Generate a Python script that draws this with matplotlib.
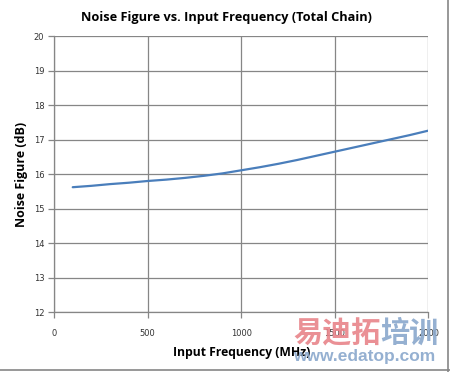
import matplotlib
matplotlib.use("Agg")
import matplotlib.pyplot as plt
from matplotlib.lines import Line2D

# Datos
freq_mhz = [100, 200, 300, 400, 500, 600, 700, 800, 900, 1000,
            1100, 1200, 1300, 1400, 1500, 1600, 1700, 1800, 1900, 2000]
nf_db = [15.62, 15.66, 15.71, 15.75, 15.80, 15.84, 15.89, 15.95, 16.02, 16.11,
         16.20, 16.30, 16.41, 16.53, 16.65, 16.77, 16.89, 17.01, 17.13, 17.26]
x_ticks = [0, 500, 1000, 1500, 2000]
y_ticks = [12, 13, 14, 15, 16, 17, 18, 19, 20]

gris = "#868686"

fig = plt.figure(figsize=(4.5, 3.72), dpi=100)
ax = fig.add_axes([0.12, 0.161, 0.832, 0.742])

ax.plot(freq_mhz, nf_db, color="#4a7ebb", lw=1.6, solid_capstyle="round", zorder=3)

ax.set_xlim(0, 2000)
ax.set_ylim(12, 20)
ax.set_xticks(x_ticks)
ax.set_yticks(y_ticks)
ax.grid(True, color=gris, lw=0.9)
for lado in ["top", "right"]:
    ax.spines[lado].set_visible(False)
for lado in ["left", "bottom"]:
    ax.spines[lado].set_color(gris)
    ax.spines[lado].set_linewidth(0.9)
ax.tick_params(axis="both", colors=gris, length=4, width=0.9, labelsize=6,
               labelcolor="#333333", pad=3)
ax.tick_params(axis="x", pad=8)

ax.set_title("Noise Figure vs. Input Frequency (Total Chain)", fontsize=9.2,
             fontweight="bold", family="Open Sans", pad=11, x=0.46)
ax.set_xlabel("Input Frequency (MHz)", fontsize=8.7, fontweight="bold",
              family="Open Sans", labelpad=6)
ax.set_ylabel("Noise Figure (dB)", fontsize=9, fontweight="bold",
              family="Open Sans", labelpad=4)

# Marco de la figura
fig.add_artist(Line2D([448 / 450, 448 / 450], [0.0, 1.0], color=gris, lw=1.2,
                      transform=fig.transFigure))
fig.add_artist(Line2D([0.0, 1.0], [2 / 372, 2 / 372], color=gris, lw=1.2,
                      transform=fig.transFigure))

# Marca de agua
fig.text(293 / 450, 1 - 333 / 372, "易迪拓", color="#e8848a", alpha=0.9,
         fontsize=21, fontweight="bold", family="Noto Sans CJK SC", va="center")
fig.text(380 / 450, 1 - 333 / 372, "培训", color="#8aa8cc", alpha=0.9,
         fontsize=21, fontweight="bold", family="Noto Sans CJK SC", va="center")
fig.text(293 / 450, 1 - 356 / 372, "www.edatop.com", color="#8aa8cc", alpha=0.9,
         fontsize=12.5, fontweight="bold", family="Liberation Sans", va="center")

fig.savefig("out.png", dpi=100)
